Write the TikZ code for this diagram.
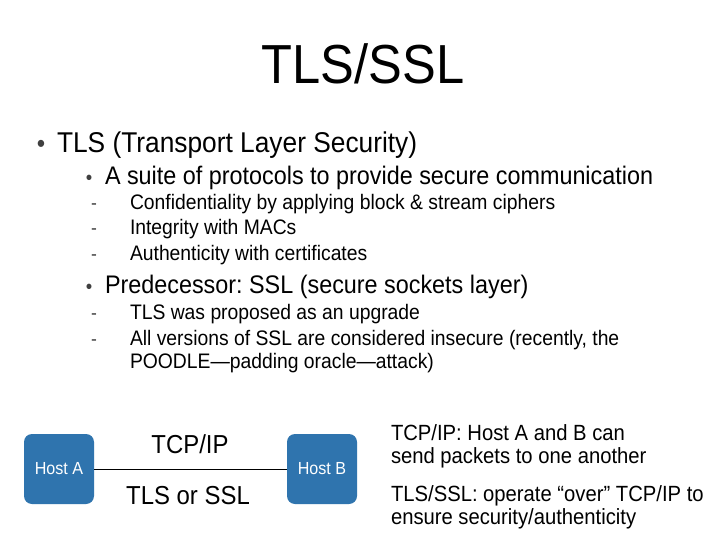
\documentclass[tikz,border=0pt]{standalone}
\usepackage{fontspec}
\setmainfont[FakeStretch=0.92]{Liberation Sans}
\begin{document}
\frenchspacing
\begin{tikzpicture}[x=1pt,y=-1pt,
  txt/.style={anchor=base west,inner sep=0pt,outer sep=0pt},
  lvlone/.style={txt,font=\fontsize{28.6}{32}\selectfont},
  lvltwo/.style={txt,font=\fontsize{25.4}{30}\selectfont},
  lvlthree/.style={txt,font=\fontsize{21}{25}\selectfont},
  side/.style={txt,font=\fontsize{22}{26}\selectfont},
  bulletmark/.style={anchor=base,inner sep=0pt,text=black!75},
  host/.style={draw=none,fill=hostblue,rounded corners=8pt,minimum width=70pt,minimum height=70pt,inner sep=0pt,text=white,font=\fontsize{17.5}{19}\selectfont},
  link/.style={draw=black,line width=0.9pt},
  lbl/.style={anchor=base,inner sep=0pt,font=\fontsize{26}{30}\selectfont}]
\definecolor{hostblue}{HTML}{2F74AE}
\useasboundingbox (0,0) rectangle (720,540);
\fill[white] (0,0) rectangle (720,540);
% title
\node[anchor=base,inner sep=0pt,font=\fontsize{55}{62}\selectfont] (title) at (363,84) {TLS/SSL};
% bullets
\node[bulletmark,font=\fontsize{26}{30}\selectfont] (b1) at (41,153) {•};
\node[lvlone] (t1) at (57,153) {TLS (Transport Layer Security)};
\node[bulletmark,font=\fontsize{20}{24}\selectfont] (b2) at (89,185) {•};
\node[lvltwo] (t2) at (105,185) {A suite of protocols to provide secure communication};
\node[bulletmark,font=\fontsize{19}{23}\selectfont] (d1) at (94,210) {-};
\node[lvlthree] (t3) at (130,210) {Confidentiality by applying block \& stream ciphers};
\node[bulletmark,font=\fontsize{19}{23}\selectfont] (d2) at (94,235) {-};
\node[lvlthree] (t4) at (130,235) {Integrity with MACs};
\node[bulletmark,font=\fontsize{19}{23}\selectfont] (d3) at (94,260) {-};
\node[lvlthree] (t5) at (130,260) {Authenticity with certificates};
\node[bulletmark,font=\fontsize{20}{24}\selectfont] (b3) at (89,293) {•};
\node[lvltwo] (t6) at (105,293) {Predecessor: SSL (secure sockets layer)};
\node[bulletmark,font=\fontsize{19}{23}\selectfont] (d4) at (94,319) {-};
\node[lvlthree] (t7) at (130,319) {TLS was proposed as an upgrade};
\node[bulletmark,font=\fontsize{19}{23}\selectfont] (d5) at (94,345) {-};
\node[lvlthree] (t8) at (130,345) {All versions of SSL are considered insecure (recently, the};
\node[lvlthree] (t9) at (130,368) {POODLE—padding oracle—attack)};
% diagram
\node[host] (ha) at (59,469) {Host A};
\node[host] (hb) at (322,469) {Host B};
\draw[link] (ha.east) -- (hb.west);
\node[lbl] (l1) at (190,453) {TCP/IP};
\node[lbl] (l2) at (188,504) {TLS or SSL};
% side text
\node[side] (s1) at (391,440) {TCP/IP: Host A and B can};
\node[side] (s2) at (391,463) {send packets to one another};
\node[side] (s3) at (391,501) {TLS/SSL: operate “over” TCP/IP to};
\node[side] (s4) at (391,524) {ensure security/authenticity};
\end{tikzpicture}
\end{document}
